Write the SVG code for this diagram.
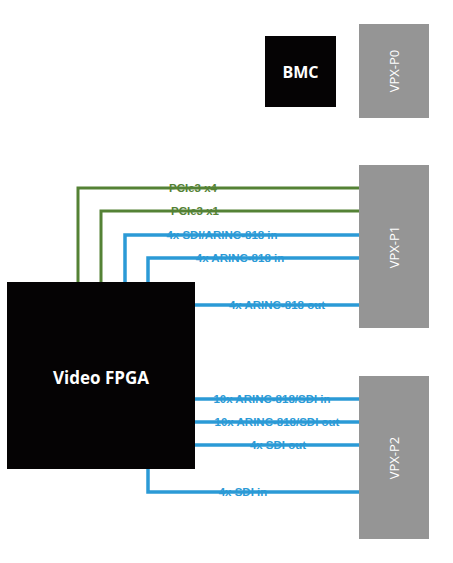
<svg xmlns="http://www.w3.org/2000/svg" width="453" height="563" viewBox="0 0 453 563">
<style>
.blk{fill:#050304}
.vpx{fill:#959595}
.g{stroke:#548235;stroke-width:3;fill:none}
.b{stroke:#2b9ad6;stroke-width:3.5;fill:none}
.lbl{font-family:"Liberation Sans",Arial,sans-serif;font-size:11.5px;font-weight:bold;text-anchor:middle}
.gt{fill:#548235}
.bt{fill:#2b9ad6}
.wt{font-family:"Open Sans","Liberation Sans",sans-serif;fill:#fff;text-anchor:middle;dominant-baseline:central}
.vt{font-family:"Open Sans","Liberation Sans",sans-serif;fill:#fff;font-size:13px;text-anchor:middle;dominant-baseline:central}
</style>
<rect width="453" height="563" fill="#fff"/>
<g id="connectors">
<path class="g" d="M78,282 V188 H359"/>
<path class="g" d="M101,282 V211 H359"/>
<path class="b" d="M125,282 V235 H359"/>
<path class="b" d="M148,282 V258 H359"/>
<path class="b" d="M195,305 H359"/>
<path class="b" d="M195,399 H359"/>
<path class="b" d="M195,422 H359"/>
<path class="b" d="M195,445 H359"/>
<path class="b" d="M148,469 V492 H359"/>
<text class="lbl gt" x="193" y="192">PCIe3 x4</text>
<text class="lbl gt" x="195" y="215">PCIe3 x1</text>
<text class="lbl bt" x="222" y="239">4x SDI/ARINC-818 in</text>
<text class="lbl bt" x="240" y="262">4x ARINC-818 in</text>
<text class="lbl bt" x="277" y="309">4x ARINC-818 out</text>
<text class="lbl bt" x="272" y="403">10x ARINC-818/SDI in</text>
<text class="lbl bt" x="277" y="426">10x ARINC-818/SDI out</text>
<text class="lbl bt" x="278" y="449">4x SDI out</text>
<text class="lbl bt" x="243" y="496">4x SDI in</text>
</g>
<g id="bmc">
<rect class="blk" x="265" y="36" width="71" height="71"/>
<text class="wt" x="300.5" y="72" font-size="16" font-weight="bold">BMC</text>
</g>
<g id="vpx-p0">
<rect class="vpx" x="359" y="24" width="70" height="94"/>
<text class="vt" transform="translate(394,71) rotate(-90)">VPX-P0</text>
</g>
<g id="vpx-p1">
<rect class="vpx" x="359" y="165" width="70" height="163"/>
<text class="vt" transform="translate(394,247) rotate(-90)">VPX-P1</text>
</g>
<g id="vpx-p2">
<rect class="vpx" x="359" y="376" width="70" height="163"/>
<text class="vt" transform="translate(394,458) rotate(-90)">VPX-P2</text>
</g>
<g id="video-fpga">
<rect class="blk" x="7" y="282" width="188" height="187"/>
<text class="wt" x="101" y="377" font-size="17" font-weight="bold">Video FPGA</text>
</g>
</svg>
